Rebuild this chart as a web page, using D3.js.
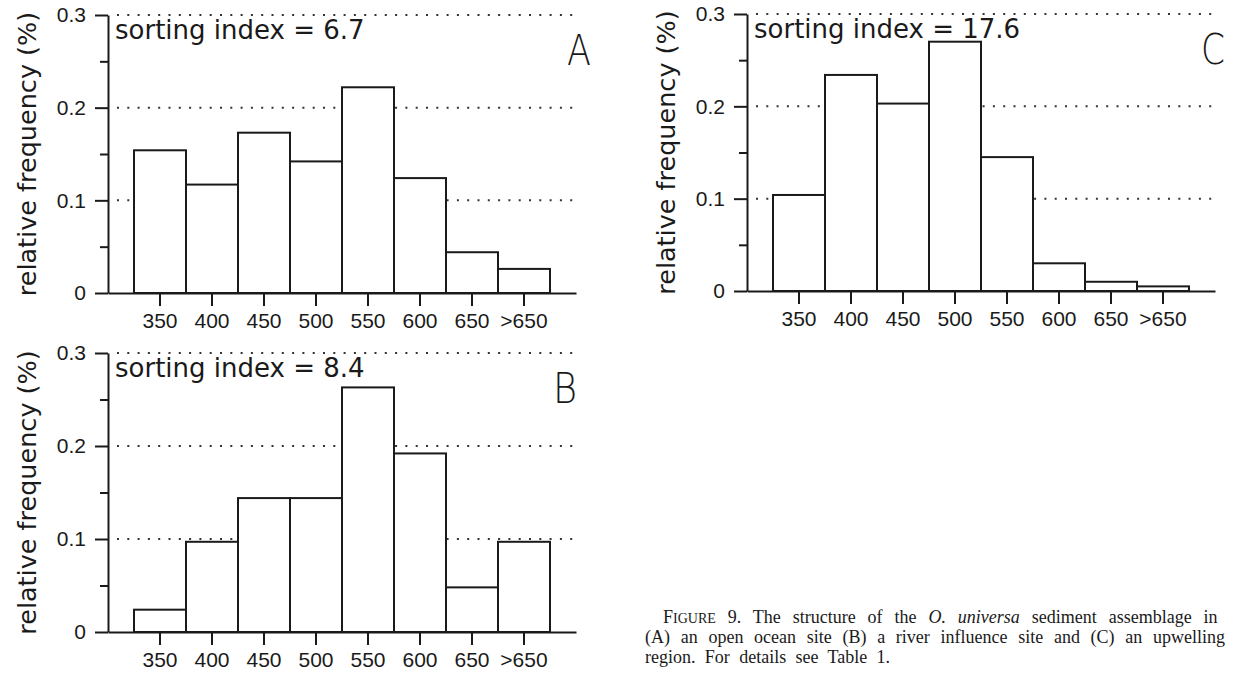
<!DOCTYPE html>
<html>
<head>
<meta charset="utf-8">
<script src="https://cdn.jsdelivr.net/npm/d3@7"></script>
<style>
  body { margin: 0; background: #fff; }
  svg { display: block; }
</style>
</head>
<body>
<script>
// size classes (microns) and relative frequencies
const categories = ["350", "400", "450", "500", "550", "600", "650", ">650"];
const freqA = [0.154, 0.117, 0.173, 0.142, 0.222, 0.124, 0.044, 0.026];
const freqB = [0.024, 0.097, 0.144, 0.144, 0.263, 0.192, 0.048, 0.097];
const freqC = [0.104, 0.234, 0.203, 0.270, 0.145, 0.030, 0.010, 0.005];
const panelLetters = ["A", "B", "C"];
const sortingIndices = [6.7, 8.4, 17.6];
const yTicks = [0, 0.1, 0.2, 0.3];
const yMinorTicks = [0.05, 0.15, 0.25];

const width = 1234, height = 675;
const ink = "#1a1a1a";

const svg = d3.select("body").append("svg")
    .attr("width", width)
    .attr("height", height);

// panel boxes (axis extents)
const panels = [
    { values: freqA, left: 108, right: 576, top: 15, bottom: 293, letterX: 591 },
    { values: freqB, left: 108, right: 576, top: 353, bottom: 632, letterX: 577 },
    { values: freqC, left: 747, right: 1215, top: 14, bottom: 291, letterX: 1225 }
];

panels.forEach((p, i) => drawPanel(p, panelLetters[i], sortingIndices[i]));

function drawPanel(p, letter, si) {
    const x = d3.scaleBand()
        .domain(categories)
        .range([p.left, p.right])
        .paddingInner(0)
        .paddingOuter(0.5);

    const y = d3.scaleLinear()
        .domain([0, 0.3])
        .range([p.bottom, p.top]);

    const g = svg.append("g");

    // dotted reference lines
    g.selectAll(".grid")
        .data(yTicks.filter(d => d > 0))
        .enter()
        .append("line")
        .attr("x1", p.left + 9)
        .attr("x2", p.right - 3)
        .attr("y1", d => y(d))
        .attr("y2", d => y(d))
        .attr("stroke", "#333")
        .attr("stroke-width", 2)
        .attr("stroke-dasharray", "2,8.3");

    // bars
    g.selectAll(".bar")
        .data(p.values.map((v, i) => ({ cat: categories[i], v: v })))
        .enter()
        .append("rect")
        .attr("x", d => x(d.cat))
        .attr("width", x.bandwidth())
        .attr("y", d => y(d.v))
        .attr("height", d => p.bottom - y(d.v))
        .attr("fill", "#fff")
        .attr("stroke", ink)
        .attr("stroke-width", 2);

    // minor y ticks
    g.append("g")
        .attr("transform", `translate(${p.left},0)`)
        .call(d3.axisLeft(y).tickValues(yMinorTicks).tickSize(8).tickFormat(""))
        .call(a => a.select(".domain").remove())
        .call(a => a.selectAll("line").attr("stroke", ink).attr("stroke-width", 2));

    // major y axis
    g.append("g")
        .attr("transform", `translate(${p.left},0)`)
        .call(d3.axisLeft(y).tickValues(yTicks).tickSize(13).tickSizeOuter(0).tickPadding(9)
            .tickFormat(d => d === 0 ? "0" : d3.format(".1f")(d)))
        .call(a => a.selectAll("line, .domain").attr("stroke", ink).attr("stroke-width", 2))
        .call(a => a.selectAll("text")
            .attr("fill", ink)
            .attr("font-family", "Liberation Sans, Arial, sans-serif")
            .attr("font-size", 21));

    // x axis
    g.append("g")
        .attr("transform", `translate(0,${p.bottom})`)
        .call(d3.axisBottom(x).tickSize(13).tickSizeOuter(0).tickPadding(7))
        .call(a => a.selectAll("line, .domain").attr("stroke", ink).attr("stroke-width", 2))
        .call(a => a.selectAll("text")
            .attr("fill", ink)
            .attr("font-family", "Liberation Sans, Arial, sans-serif")
            .attr("font-size", 21));

    // y label
    g.append("text")
        .attr("transform", `translate(${p.left - 72},${(p.top + p.bottom) / 2}) rotate(-90)`)
        .attr("text-anchor", "middle")
        .attr("font-family", "DejaVu Sans, sans-serif")
        .attr("font-size", 25.5)
        .attr("fill", ink)
        .text("relative frequency (%)");

    g.append("text")
        .attr("x", p.left + 7)
        .attr("y", p.top + 24)
        .attr("font-family", "DejaVu Sans, sans-serif")
        .attr("font-size", 26)
        .attr("fill", ink)
        .style("white-space", "pre")
        .text("sorting index = " + si.toFixed(1));

    g.append("text")
        .attr("x", p.letterX)
        .attr("y", p.top + 50)
        .attr("text-anchor", "end")
        .attr("font-family", "DejaVu Sans, sans-serif")
        .attr("font-weight", 200)
        .attr("font-size", 42)
        .attr("textLength", 24)
        .attr("lengthAdjust", "spacingAndGlyphs")
        .attr("fill", ink)
        .text(letter);
}

// caption, justified by stretching the word gaps
const cap = svg.append("g")
    .attr("font-family", "Liberation Serif, Times New Roman, serif")
    .attr("font-size", 18)
    .attr("fill", ink)
    .style("white-space", "pre");

function justify(t, target) {
    const natural = t.node().getComputedTextLength();
    const gaps = (t.text().match(/ /g) || []).length;
    t.attr("word-spacing", (target - natural) / gaps);
}

const l1 = cap.append("text").attr("x", 663).attr("y", 623);
l1.append("tspan").text("F");
l1.append("tspan").attr("font-size", 14).text("IGURE");
l1.append("tspan").text(" 9.  The structure of the ");
l1.append("tspan").attr("font-style", "italic").text("O. universa");
l1.append("tspan").text(" sediment assemblage in");
justify(l1, 562);

const l2 = cap.append("text").attr("x", 645).attr("y", 643)
    .text("(A) an open ocean site (B) a river influence site and (C) an upwelling");
justify(l2, 580);

const l3 = cap.append("text").attr("x", 645).attr("y", 663)
    .text("region. For details see Table 1.");
justify(l3, 245);
</script>
</body>
</html>
